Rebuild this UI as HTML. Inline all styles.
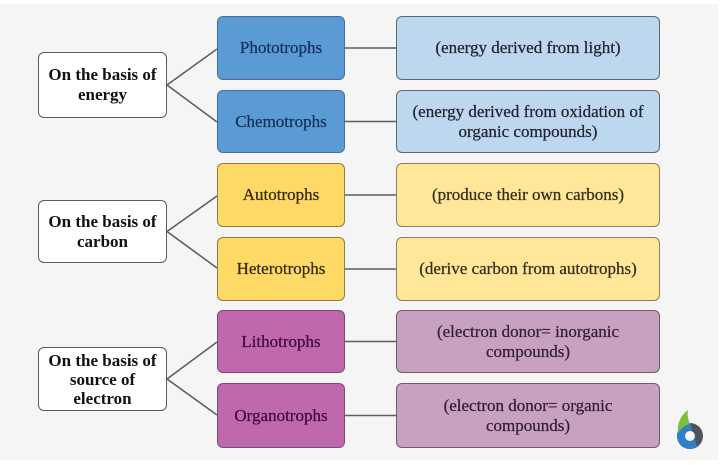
<!DOCTYPE html>
<html><head><meta charset="utf-8"><style>
html,body{margin:0;padding:0;}
body{width:720px;height:465px;background:#ffffff;position:relative;overflow:hidden;font-family:"Liberation Serif",serif;}
.bg{position:absolute;left:0;top:4px;width:718px;height:456px;background:#f5f5f5;}
.b{position:absolute;box-sizing:border-box;border-radius:6px;border:1.6px solid #555;display:flex;align-items:center;justify-content:center;text-align:center;font-size:17px;line-height:20px;-webkit-text-stroke:0.25px currentColor;}
.l{background:#fff;border-color:#5a5a5a;font-weight:bold;color:#111;left:38px;width:129px;-webkit-text-stroke:0;}
.m{left:217px;width:128px;}
.r{left:396px;width:264px;}
.bl{background:#5b9bd5;border-color:#456f99;color:#16305a;}
.lbl{background:#bdd7ee;border-color:#5d6772;color:#222232;}
.y{background:#ffd966;border-color:#927b3e;color:#33290c;}
.ly{background:#ffe699;border-color:#8e8060;color:#332c18;}
.p{background:#c068ae;border-color:#7a4a70;color:#420a38;}
.lp{background:#c9a1c0;border-color:#6f5a69;color:#33202e;}
svg{position:absolute;left:0;top:0;}
</style></head><body>
<div class="bg"></div>
<svg width="720" height="465">
<g stroke="#5f5f5f" stroke-width="1.6" fill="none">
<line x1="167" y1="85" x2="217" y2="49"/>
<line x1="167" y1="85" x2="217" y2="122"/>
<line x1="345" y1="48" x2="396" y2="48"/>
<line x1="345" y1="121.5" x2="396" y2="121.5"/>
<line x1="167" y1="231.5" x2="217" y2="196"/>
<line x1="167" y1="231.5" x2="217" y2="268"/>
<line x1="345" y1="195" x2="396" y2="195"/>
<line x1="345" y1="269" x2="396" y2="269"/>
<line x1="167" y1="379" x2="217" y2="342"/>
<line x1="167" y1="379" x2="217" y2="415"/>
<line x1="345" y1="341.5" x2="396" y2="341.5"/>
<line x1="345" y1="415.5" x2="396" y2="415.5"/>
</g>
<!-- logo -->
<g>
<circle cx="690" cy="436" r="13" fill="#4a5560"/>
<path d="M690 423 A13 13 0 0 0 690 449 A13 13 0 0 0 697 447 Z" fill="#2f7fc8"/>
<path d="M677 436 A13 13 0 0 0 690 449 L690 436 Z" fill="#2f7fc8"/>
<circle cx="690" cy="436" r="5" fill="#f5f5f5"/>
<path d="M688 410 C680 416 677 424 678 433 C681 428 685 425 690 424 C688 419 687 415 688 410 Z" fill="#7cbf3a"/>
</g>
</svg>

<div class="b l" style="top:52px;height:66px;">On the basis of<br>energy</div>
<div class="b m bl" style="top:16px;height:64px;">Phototrophs</div>
<div class="b m bl" style="top:90px;height:63px;">Chemotrophs</div>
<div class="b r lbl" style="top:16px;height:64px;">(energy derived from light)</div>
<div class="b r lbl" style="top:90px;height:63px;">(energy derived from oxidation of<br>organic compounds)</div>

<div class="b l" style="top:200px;height:63px;">On the basis of<br>carbon</div>
<div class="b m y" style="top:163px;height:64px;">Autotrophs</div>
<div class="b m y" style="top:237px;height:64px;">Heterotrophs</div>
<div class="b r ly" style="top:163px;height:64px;">(produce their own carbons)</div>
<div class="b r ly" style="top:237px;height:64px;">(derive carbon from autotrophs)</div>

<div class="b l" style="top:347px;height:64px;line-height:19px;">On the basis of<br>source of<br>electron</div>
<div class="b m p" style="top:310px;height:63px;">Lithotrophs</div>
<div class="b m p" style="top:383px;height:65px;">Organotrophs</div>
<div class="b r lp" style="top:310px;height:63px;">(electron donor= inorganic<br>compounds)</div>
<div class="b r lp" style="top:383px;height:65px;">(electron donor= organic<br>compounds)</div>
</body></html>
